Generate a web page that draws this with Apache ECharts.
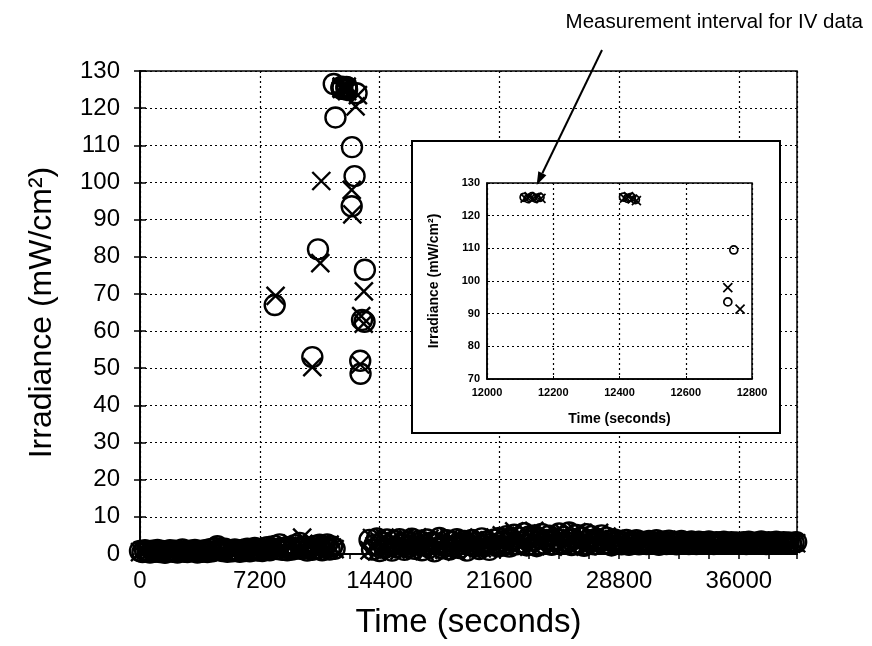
<!DOCTYPE html>
<html>
<head>
<meta charset="utf-8">
<title>Irradiance vs time</title>
<script src="https://cdn.jsdelivr.net/npm/echarts@6/dist/echarts.min.js"></script>
<style>
  html, body { margin: 0; padding: 0; background: #fff; }
  #chart { width: 872px; height: 646px; }
</style>
</head>
<body>
<div id="chart"></div>
<script>
// axis ticks
const mainXTicks = [0, 7200, 14400, 21600, 28800, 36000];
const mainXMax = 39500;
const mainYTicks = [0, 10, 20, 30, 40, 50, 60, 70, 80, 90, 100, 110, 120, 130];
const insetXTicks = [12000, 12200, 12400, 12600, 12800];
const insetYTicks = [70, 80, 90, 100, 110, 120, 130];

// dark / low readings, one every 150 s
const sampleStep = 150;
const lowStartA = 0;
const lowCirclesA = [
  0.8, 0.5, 1.0, 0.7, 0.4, 0.9, 0.6, 1.1, 0.5, 0.8,
  0.3, 0.7, 1.0, 0.6, 0.9, 0.4, 0.8, 1.2, 0.6, 0.5,
  0.9, 0.7, 1.1, 0.4, 0.8, 0.6, 1.0, 0.5, 1.3, 0.7,
  1.6, 2.1, 1.2, 0.8, 1.4, 0.6, 1.0, 0.7, 1.2, 0.9,
  0.6, 1.1, 0.8, 1.4, 0.7, 1.0, 1.6, 0.9, 1.3, 0.8,
  1.2, 1.8, 1.0, 1.5, 2.2, 1.3, 2.6, 1.1, 1.7, 1.0,
  1.9, 1.2, 2.4, 1.5, 3.0, 1.3, 2.0, 0.9, 1.6, 1.1,
  2.2, 1.4, 2.5, 1.0, 1.8, 2.6, 1.2, 2.0, 1.4
];
const lowCrossesA = [
  0.5, 0.9, 0.6, 1.2, 0.8, 0.4, 1.0, 0.7, 0.9, 0.5,
  1.1, 0.6, 0.8, 1.0, 0.4, 0.9, 0.7, 0.5, 1.1, 0.8,
  0.6, 1.0, 0.5, 0.9, 1.2, 0.7, 0.4, 1.0, 0.8, 1.1,
  0.9, 1.4, 0.7, 1.1, 0.6, 1.3, 0.9, 1.2, 0.8, 1.0,
  1.3, 0.7, 1.2, 0.9, 1.5, 0.8, 1.1, 1.4, 0.9, 1.6,
  1.0, 1.5, 2.0, 1.2, 1.7, 2.4, 1.4, 1.9, 1.2, 2.2,
  1.5, 2.8, 1.3, 2.1, 1.6, 4.4, 1.8, 1.2, 2.3, 1.4,
  2.0, 1.3, 2.7, 1.6, 2.2, 1.1, 2.5, 1.7, 1.3
];
const lowStartB = 13800;
const lowCirclesB = [
  3.8, 1.2, 2.5, 4.2, 0.8, 3.0, 1.6, 3.9, 2.2, 0.9,
  3.5, 1.8, 4.0, 2.6, 1.1, 3.3, 2.0, 4.1, 1.4, 2.8,
  3.6, 1.0, 2.4, 3.9, 1.7, 3.1, 0.7, 2.9, 4.3, 1.5,
  2.3, 3.7, 1.2, 3.2, 2.0, 4.0, 1.6, 2.7, 3.5, 0.9,
  2.5, 3.8, 1.9, 3.0, 1.3, 4.2, 2.2, 3.4, 1.1, 2.8,
  3.9, 2.1,
  4.3, 2.2, 3.5, 4.8, 2.0, 3.9, 5.2, 2.6, 4.4, 3.1,
  5.6, 2.3, 4.7, 3.6, 5.0, 2.1, 4.2, 5.4, 2.8, 3.8,
  4.9, 2.5, 3.4, 4.1, 5.5, 2.9, 4.6, 3.2, 5.8, 2.4,
  4.0, 5.1, 3.0, 4.5, 2.2, 5.3, 3.7, 4.8, 2.6, 4.1,
  3.3, 5.0, 2.8, 4.4, 3.6, 2.3, 3.9, 3.0,
  3.6, 2.6, 3.2, 3.8, 2.5, 3.4, 2.9, 3.7, 2.6, 3.3,
  3.0, 2.7, 3.5, 2.8, 3.2, 3.7, 2.5, 3.1, 3.4, 2.7,
  3.6, 2.9, 3.3, 2.6, 3.0, 3.5, 2.8, 3.2, 2.7, 3.4,
  3.1, 2.7, 3.3, 2.9, 3.2, 2.8, 3.4, 3.0, 2.7, 3.2,
  3.1, 2.9, 3.3, 2.8, 3.0, 3.2, 2.9, 3.1, 2.8, 3.0,
  3.2, 2.7, 3.3, 3.0, 2.9, 3.1, 2.8, 3.4, 3.0, 2.7,
  3.2, 2.9, 3.1, 3.3, 2.8, 3.0, 3.2, 2.9, 3.1, 2.8,
  3.0, 3.2
];
const lowCrossesB = [
  1.0, 4.3, 2.1, 0.7, 3.4, 1.9, 4.4, 1.3, 2.9, 4.0,
  1.5, 3.2, 0.9, 2.4, 4.2, 1.6, 3.7, 1.2, 2.7, 4.5,
  1.8, 3.0, 0.8, 2.2, 4.1, 2.6, 3.5, 1.4, 2.0, 3.8,
  1.1, 2.9, 4.3, 1.7, 3.3, 0.6, 2.5, 3.9, 1.9, 4.1,
  2.8, 1.2, 3.6, 2.3, 4.4, 1.5, 3.1, 2.0, 3.7, 1.3,
  2.6, 4.0,
  2.4, 5.0, 3.2, 1.9, 4.6, 2.9, 6.1, 3.5, 2.2, 4.9,
  3.0, 5.5, 2.0, 4.0, 6.2, 2.7, 3.9, 2.3, 5.1, 3.3,
  4.5, 2.1, 3.7, 2.9, 4.8, 2.5, 5.6, 3.4, 2.0, 4.3,
  3.1, 5.9, 2.6, 4.1, 3.6, 2.2, 5.2, 3.0, 4.4, 2.4,
  5.7, 3.2, 2.1, 4.7, 3.5, 2.7, 4.0, 3.1,
  2.8, 3.5, 2.5, 3.1, 3.7, 2.7, 3.3, 2.4, 3.6, 2.9,
  3.2, 2.6, 3.4, 3.0, 2.7, 3.5, 3.1, 2.6, 3.3, 3.8,
  2.8, 3.0, 3.4, 2.5, 3.2, 2.9, 3.6, 2.7, 3.1, 3.3,
  2.9, 3.2, 2.8, 3.3, 3.0, 2.7, 3.1, 3.4, 2.9, 3.0,
  2.8, 3.3, 3.1, 2.7, 3.2, 3.0, 3.3, 2.9, 3.1, 3.0,
  2.8, 3.2, 2.9, 3.1, 3.4, 2.8, 3.0, 3.2, 2.7, 3.1,
  3.3, 2.9, 3.0, 3.2, 2.8, 3.1, 2.9, 3.3, 3.0, 2.8,
  3.1, 2.9
];

// illuminated readings [time s, irradiance mW/cm2]
const highCircles = [
  [8100, 67], [10360, 53], [10700, 82], [11650, 126.5], [11750, 117.5],
  [12112, 125.6], [12124, 125.2], [12136, 125.8], [12148, 125.3], [12160, 125.6],
  [12412, 125.7], [12424, 125.3], [12436, 125.6], [12448, 124.9],
  [12727, 93.6], [12745, 109.5], [12900, 101.7], [13020, 124],
  [13240, 52], [13260, 48.5], [13350, 63], [13500, 62.5], [13520, 76.5]
];
const highCrosses = [
  [8150, 69.5], [10360, 50.3], [10840, 78.3], [10900, 100.4],
  [12115, 125.4], [12127, 125.8], [12139, 125.2], [12151, 125.7], [12163, 125.3],
  [12415, 125.4], [12427, 125.8], [12439, 125.1], [12451, 124.6],
  [12727, 98], [12764, 91.4], [12960, 120.5], [13100, 123.5],
  [13240, 51], [13300, 64], [13450, 62], [13460, 70.7]
];

function sampled(start, values) {
  return values.map((v, i) => [start + i * sampleStep, v]);
}
const circlesAll = sampled(lowStartA, lowCirclesA).concat(sampled(lowStartB, lowCirclesB), highCircles);
const crossesAll = sampled(lowStartA, lowCrossesA).concat(sampled(lowStartB, lowCrossesB), highCrosses);

const FONT = "'Liberation Sans', Arial, Helvetica, sans-serif";
const crossPath = 'path://M0,0L10,10M10,0L0,10';
const dotted = { color: '#000', width: 1.2, type: [2, 3] };
const blackLine = { show: true, lineStyle: { color: '#000', width: 1.5 } };
const plain = v => String(v);

const chart = echarts.init(document.getElementById('chart'));

const option = {
  animation: false,
  backgroundColor: '#fff',
  grid: [
    { left: 140, top: 71, right: 75, bottom: 92, show: true, borderColor: '#000', borderWidth: 1.5, backgroundColor: 'transparent' },
    { left: 487, top: 183, right: 120, bottom: 267, show: true, borderColor: '#000', borderWidth: 1.5, backgroundColor: '#fff', z: 6 }
  ],
  xAxis: [
    {
      gridIndex: 0, type: 'value', min: mainXTicks[0], max: mainXMax,
      interval: mainXTicks[1] - mainXTicks[0],
      axisLine: blackLine,
      axisTick: { show: true, inside: true, length: 6, lineStyle: { color: '#000', width: 1.5 } },
      axisLabel: { color: '#000', fontFamily: FONT, fontSize: 24, margin: 15, showMaxLabel: false, formatter: plain },
      splitLine: { show: true, lineStyle: dotted },
      name: 'Time (seconds)', nameLocation: 'middle', nameGap: 52,
      nameTextStyle: { color: '#000', fontFamily: FONT, fontSize: 33 }
    },
    {
      gridIndex: 0, type: 'value', position: 'top', min: mainXTicks[0], max: mainXMax,
      interval: (mainXTicks[1] - mainXTicks[0]) / 4,
      axisLine: blackLine,
      axisTick: { show: true, inside: true, length: 5, lineStyle: { color: '#000', width: 1.5 } },
      axisLabel: { show: false },
      splitLine: { show: false }
    },
    {
      gridIndex: 1, type: 'value', min: insetXTicks[0], max: insetXTicks[insetXTicks.length - 1],
      interval: insetXTicks[1] - insetXTicks[0], z: 7,
      axisLine: blackLine,
      axisTick: { show: true, inside: true, length: 3, lineStyle: { color: '#000' } },
      axisLabel: { color: '#000', fontFamily: FONT, fontSize: 11, fontWeight: 'bold', margin: 8, formatter: plain },
      splitLine: { show: true, lineStyle: dotted },
      name: 'Time (seconds)', nameLocation: 'middle', nameGap: 33,
      nameTextStyle: { color: '#000', fontFamily: FONT, fontSize: 14, fontWeight: 'bold' }
    }
  ],
  yAxis: [
    {
      gridIndex: 0, type: 'value', min: mainYTicks[0], max: mainYTicks[mainYTicks.length - 1],
      interval: mainYTicks[1] - mainYTicks[0],
      axisLine: blackLine,
      axisTick: { show: true, inside: true, length: 6, lineStyle: { color: '#000', width: 1.5 } },
      axisLabel: { color: '#000', fontFamily: FONT, fontSize: 24, margin: 20, formatter: plain },
      splitLine: { show: true, lineStyle: dotted },
      name: 'Irradiance (mW/cm²)', nameLocation: 'middle', nameGap: 82, nameRotate: 90,
      nameTextStyle: { color: '#000', fontFamily: FONT, fontSize: 32 }
    },
    {
      gridIndex: 0, type: 'value', position: 'right', min: mainYTicks[0], max: mainYTicks[mainYTicks.length - 1],
      interval: mainYTicks[1] - mainYTicks[0],
      axisLine: blackLine,
      axisTick: { show: true, inside: true, length: 6, lineStyle: { color: '#000', width: 1.5 } },
      axisLabel: { show: false },
      splitLine: { show: false }
    },
    {
      gridIndex: 1, type: 'value', min: insetYTicks[0], max: insetYTicks[insetYTicks.length - 1],
      interval: insetYTicks[1] - insetYTicks[0], z: 7,
      axisLine: blackLine,
      axisTick: { show: true, inside: true, length: 3, lineStyle: { color: '#000' } },
      axisLabel: { color: '#000', fontFamily: FONT, fontSize: 11, fontWeight: 'bold', margin: 7, formatter: plain },
      splitLine: { show: true, lineStyle: dotted },
      name: 'Irradiance (mW/cm²)', nameLocation: 'middle', nameGap: 46, nameRotate: 90,
      nameTextStyle: { color: '#000', fontFamily: FONT, fontSize: 14, fontWeight: 'bold' }
    }
  ],
  series: [
    {
      type: 'scatter', xAxisIndex: 0, yAxisIndex: 0, data: circlesAll,
      symbol: 'circle', symbolSize: 20, silent: true,
      itemStyle: { color: 'rgba(0,0,0,0)', borderColor: '#000', borderWidth: 2.4, opacity: 1 }
    },
    {
      type: 'scatter', xAxisIndex: 0, yAxisIndex: 0, data: crossesAll,
      symbol: crossPath, symbolSize: 18, silent: true,
      itemStyle: { color: 'rgba(0,0,0,0)', borderColor: '#000', borderWidth: 2.4, opacity: 1 }
    },
    {
      type: 'scatter', xAxisIndex: 2, yAxisIndex: 2, data: highCircles, z: 8, clip: true,
      symbol: 'circle', symbolSize: 8, silent: true,
      itemStyle: { color: 'rgba(0,0,0,0)', borderColor: '#000', borderWidth: 1.7, opacity: 1 }
    },
    {
      type: 'scatter', xAxisIndex: 2, yAxisIndex: 2, data: highCrosses, z: 8, clip: true,
      symbol: crossPath, symbolSize: 9, silent: true,
      itemStyle: { color: 'rgba(0,0,0,0)', borderColor: '#000', borderWidth: 1.7, opacity: 1 }
    }
  ],
  graphic: [
    {
      type: 'rect', id: 'insetBox', z: 5, silent: true,
      shape: { x: 412, y: 141, width: 368, height: 292 },
      style: { fill: '#fff', stroke: '#000', lineWidth: 2 }
    },
    {
      type: 'text', id: 'note', z: 20, silent: true,
      x: 863, y: 22,
      style: {
        text: 'Measurement interval for IV data', fill: '#000',
        font: '20.5px ' + FONT, textAlign: 'right', textVerticalAlign: 'middle'
      }
    }
  ]
};
chart.setOption(option);

// arrow from the note to the first IV cluster in the inset
const tip = chart.convertToPixel({ xAxisIndex: 2, yAxisIndex: 2 }, [12150, 129.4]);
const tail = [602, 50];
const ang = Math.atan2(tip[1] - tail[1], tip[0] - tail[0]);
const headLen = 13, headHalf = 4.5;
const bx = tip[0] - headLen * Math.cos(ang), by = tip[1] - headLen * Math.sin(ang);
chart.setOption({
  graphic: [
    {
      type: 'line', id: 'arrowLine', z: 20, silent: true,
      shape: { x1: tail[0], y1: tail[1], x2: bx, y2: by },
      style: { stroke: '#000', lineWidth: 2 }
    },
    {
      type: 'polygon', id: 'arrowHead', z: 20, silent: true,
      shape: {
        points: [
          tip,
          [bx + headHalf * Math.sin(ang), by - headHalf * Math.cos(ang)],
          [bx - headHalf * Math.sin(ang), by + headHalf * Math.cos(ang)]
        ]
      },
      style: { fill: '#000' }
    }
  ]
});
</script>
</body>
</html>
